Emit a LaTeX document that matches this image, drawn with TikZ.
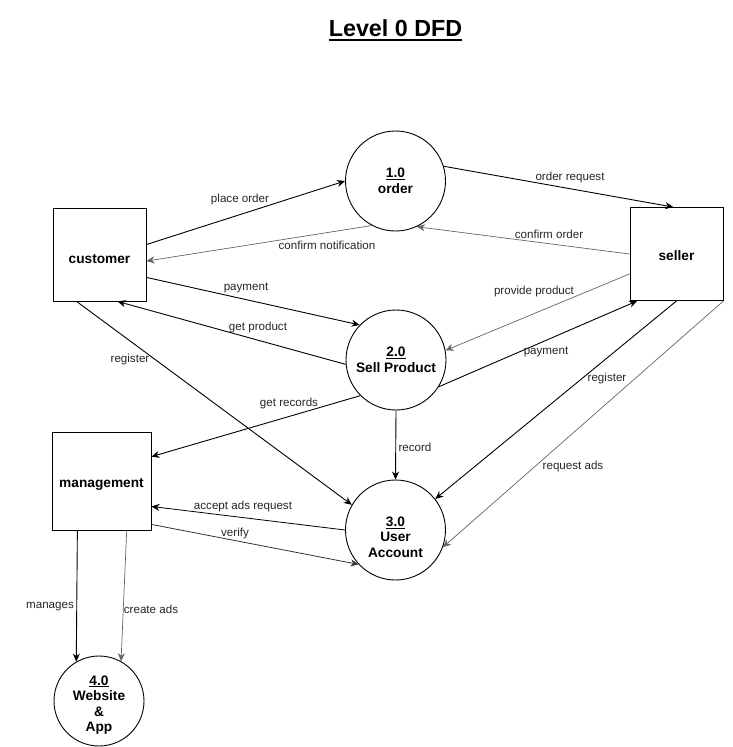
\documentclass[tikz,border=0pt]{standalone}
\usepackage{fontspec}
\setmainfont{Liberation Sans}
\usetikzlibrary{arrows.meta,calc}
\newcommand{\lowertxt}[2]{\raisebox{-#1}[\height][\depth]{#2}}
\begin{document}
\begin{tikzpicture}[x=1pt,y=-1pt,
  ent/.style={draw,line width=0.9pt,minimum width=93pt,minimum height=93pt,inner sep=0pt,font=\bfseries\fontsize{13.7}{15.5}\selectfont},
  proc/.style={draw,circle,line width=0.9pt,minimum size=100pt,inner sep=0pt,align=center,font=\bfseries\fontsize{13.7}{15.5}\selectfont},
  ptxt/.style={inner sep=0pt,align=center,font=\bfseries\fontsize{13.7}{15.5}\selectfont},
  flow/.style={-{Stealth[length=8pt,width=7pt,inset=2.5pt]},line width=0.9pt},
  lite/.style={flow,draw=black!60,line width=0.7pt},
  lbl/.style={font=\fontsize{11.6}{13}\selectfont,inner sep=0pt,text=black!85}]

\useasboundingbox (0,0) rectangle (733,747);
\fill[white] (0,0) rectangle (733,747);

% title
\node[font=\bfseries\fontsize{23.3}{26}\selectfont,inner sep=0pt] (title) at (395.5,28) {Level 0 DFD};
\draw[line width=1.8pt] ([yshift=-3.5pt]title.base west) -- ([yshift=-3.5pt]title.base east);

% entities
\node[ent] (cust) at (99.5,254.5) {\lowertxt{4.5pt}{customer}};
\node[ent] (sell) at (676.5,254) {\lowertxt{2pt}{seller}};
\node[ent,minimum width=99pt,minimum height=98pt] (mgmt) at (101.5,481) {\lowertxt{3pt}{management}};

% processes
\node[proc] (c1) at (395.5,181) {\underline{1.0}\\order};
\node[proc] (c2) at (396,360) {\underline{2.0}\\Sell Product};
\node[proc] (c3) at (395.5,530) {};
\node[ptxt] (t3) at (395.5,537) {\underline{3.0}\\User\\Account};
\node[proc,minimum size=90pt] (c4) at (99,701) {};
\node[ptxt] (t4) at (99,705) {\underline{4.0}\\Website\\\&\\App};

% flows
\draw[flow] (cust.12.7) -- (c1.180);
\node[lbl] (l1) at (240,199) {place order};
\draw[lite] (c1.242) -- (cust.-8);
\node[lbl] (l2) at (327,245) {confirm notification};
\draw[flow] (cust.-26.8) -- (c2.136.5);
\node[lbl] (l3) at (246,288) {payment};
\draw[flow] (c2.185.7) -- (cust.-69.8);
\node[lbl] (l4) at (258,327) {get product};
\draw[flow] (cust.244.2) -- (c3.150);
\node[lbl] (l5) at (130,359) {register};

\draw[flow] (c1.17.7) -- (sell.94.4);
\node[lbl] (l6) at (570,177) {order request};
\draw[lite] (sell.180) -- (c1.-65.4);
\node[lbl] (l7) at (549,234) {confirm order};
\draw[lite] (sell.203.3) -- (c2.11.3);
\node[lbl] (l8) at (534,291) {provide product};
\draw[flow] (c2.-32) -- (sell.-130.7);
\node[lbl] (l9) at (546,352) {payment};
\draw[flow] (sell.-90.5) -- (c3.38.5);
\node[lbl] (l10) at (607,378) {register};
\draw[lite] (sell.south east) -- (c3.-20.8);
\node[lbl] (l11) at (573,466) {request ads};

\draw[flow] (c2.225) -- (mgmt.26.8);
\node[lbl] (l12) at (289,403) {get records};
\draw[flow] (c2.south) -- (c3.north);
\node[lbl] (l13) at (415,447) {record};
\draw[flow,line width=0.8pt] (c3.180) -- (mgmt.-27);
\node[lbl] (l14) at (243,506) {accept ads request};
\draw[flow,draw=black!80,line width=0.8pt] (mgmt.-41.6) -- (c3.223);
\node[lbl] (l15) at (235,533) {verify};

\draw[flow] (mgmt.-116.6) -- (c4.120.3);
\node[lbl] (l16) at (50,607) {manages};
\draw[lite] (mgmt.-63.4) -- (c4.61.8);
\node[lbl] (l17) at (151,609) {create ads};
\end{tikzpicture}
\end{document}
